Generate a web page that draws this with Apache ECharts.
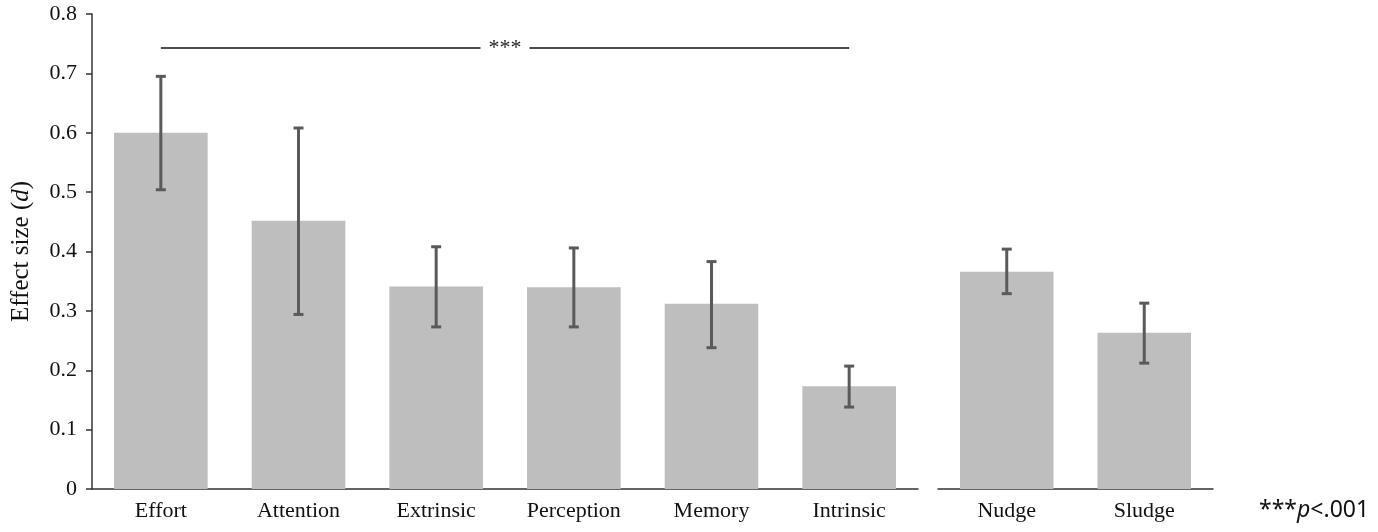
<!DOCTYPE html>
<html>
<head>
<meta charset="utf-8">
<script src="https://cdn.jsdelivr.net/npm/echarts@6/dist/echarts.min.js"></script>
<style>
  html, body { margin: 0; padding: 0; background: #fff; }
  #chart { width: 1378px; height: 532px; }
</style>
</head>
<body>
<div id="chart"></div>
<script>
// effect sizes (d) with error-bar ends
const categories = ['Effort', 'Attention', 'Extrinsic', 'Perception', 'Memory', 'Intrinsic']
const effectSizes = [0.600, 0.452, 0.341, 0.340, 0.312, 0.173]
const errLow = [0.504, 0.294, 0.273, 0.273, 0.238, 0.138]
const errHigh = [0.695, 0.608, 0.408, 0.406, 0.383, 0.207]

const groupCategories = ['Nudge', 'Sludge']
const groupSizes = [0.366, 0.263]
const groupLow = [0.329, 0.212]
const groupHigh = [0.404, 0.313]

const yMin = 0
const yMax = 0.8
const yStep = 0.1
const sigLevel = 0.743

const serif = 'Liberation Serif'
const barColor = '#bebebe'
const errColor = '#5a5a5a'
const axisColor = '#333'

const errorBars = (low, high) => low.map((l, i) => [i, l, high[i]])

const renderError = (params, api) => {
  const x = api.value(0)
  const top = api.coord([x, api.value(2)])
  const bot = api.coord([x, api.value(1)])
  const hw = 5
  const style = { stroke: errColor, lineWidth: 3 }
  return {
    type: 'group',
    children: [
      { type: 'line', shape: { x1: top[0], y1: top[1], x2: bot[0], y2: bot[1] }, style },
      { type: 'line', shape: { x1: top[0] - hw, y1: top[1], x2: top[0] + hw, y2: top[1] }, style },
      { type: 'line', shape: { x1: bot[0] - hw, y1: bot[1], x2: bot[0] + hw, y2: bot[1] }, style }
    ]
  }
}

const xAxisBase = (data, idx) => ({
  type: 'category',
  gridIndex: idx,
  data,
  axisLine: { lineStyle: { color: axisColor, width: 1.5 } },
  axisTick: { show: false },
  axisLabel: { color: '#111', fontFamily: serif, fontSize: 22, margin: 11 }
})

const chart = echarts.init(document.getElementById('chart'))
chart.setOption({
  backgroundColor: '#fff',
  animation: false,
  title: {
    text: '{a|***}{i|p}{a|<.001}',
    left: 1254,
    top: 494,
    textStyle: {
      fontWeight: 'normal',
      rich: {
        a: { fontFamily: 'Noto Sans', fontSize: 23, fontWeight: 'normal', color: '#111' },
        i: { fontFamily: 'Noto Sans', fontSize: 23, fontWeight: 'normal', color: '#111', fontStyle: 'italic' }
      }
    }
  },
  grid: [
    { left: 92, right: 460, top: 14, bottom: 43 },
    { left: 938, right: 165, top: 14, bottom: 43 }
  ],
  xAxis: [xAxisBase(categories, 0), xAxisBase(groupCategories, 1)],
  yAxis: [
    {
      type: 'value',
      gridIndex: 0,
      min: yMin,
      max: yMax,
      interval: yStep,
      name: 'Effect size ({i|d})',
      nameLocation: 'middle',
      nameGap: 58,
      nameTextStyle: {
        color: '#111',
        fontFamily: serif,
        fontSize: 25,
        rich: { i: { fontStyle: 'italic', fontFamily: serif, fontSize: 25, color: '#111' } }
      },
      axisLine: { show: true, lineStyle: { color: axisColor, width: 1.5 } },
      axisTick: { show: true, length: 6, lineStyle: { color: axisColor, width: 1.5 } },
      axisLabel: { color: '#111', fontFamily: serif, fontSize: 22, margin: 15 },
      splitLine: { show: false }
    },
    {
      type: 'value',
      gridIndex: 1,
      min: yMin,
      max: yMax,
      interval: yStep,
      axisLine: { show: false },
      axisTick: { show: false },
      axisLabel: { show: false },
      splitLine: { show: false }
    }
  ],
  series: [
    {
      type: 'bar',
      xAxisIndex: 0,
      yAxisIndex: 0,
      data: effectSizes,
      barWidth: '68%',
      itemStyle: { color: barColor },
      markLine: {
        silent: true,
        symbol: 'none',
        lineStyle: { color: '#111', width: 1.5, type: 'solid' },
        label: {
          position: 'middle',
          formatter: '***',
          distance: 0,
          verticalAlign: 'middle',
          color: '#222',
          fontFamily: serif,
          fontSize: 22,
          backgroundColor: '#fff',
          padding: [8, 8, 0, 8]
        },
        data: [[{ coord: ['Effort', sigLevel] }, { coord: ['Intrinsic', sigLevel] }]]
      }
    },
    {
      type: 'custom',
      xAxisIndex: 0,
      yAxisIndex: 0,
      renderItem: renderError,
      data: errorBars(errLow, errHigh),
      z: 5
    },
    {
      type: 'bar',
      xAxisIndex: 1,
      yAxisIndex: 1,
      data: groupSizes,
      barWidth: '68%',
      itemStyle: { color: barColor }
    },
    {
      type: 'custom',
      xAxisIndex: 1,
      yAxisIndex: 1,
      renderItem: renderError,
      data: errorBars(groupLow, groupHigh),
      z: 5
    }
  ]
})

window.addEventListener('resize', () => chart.resize())
</script>
</body>
</html>
